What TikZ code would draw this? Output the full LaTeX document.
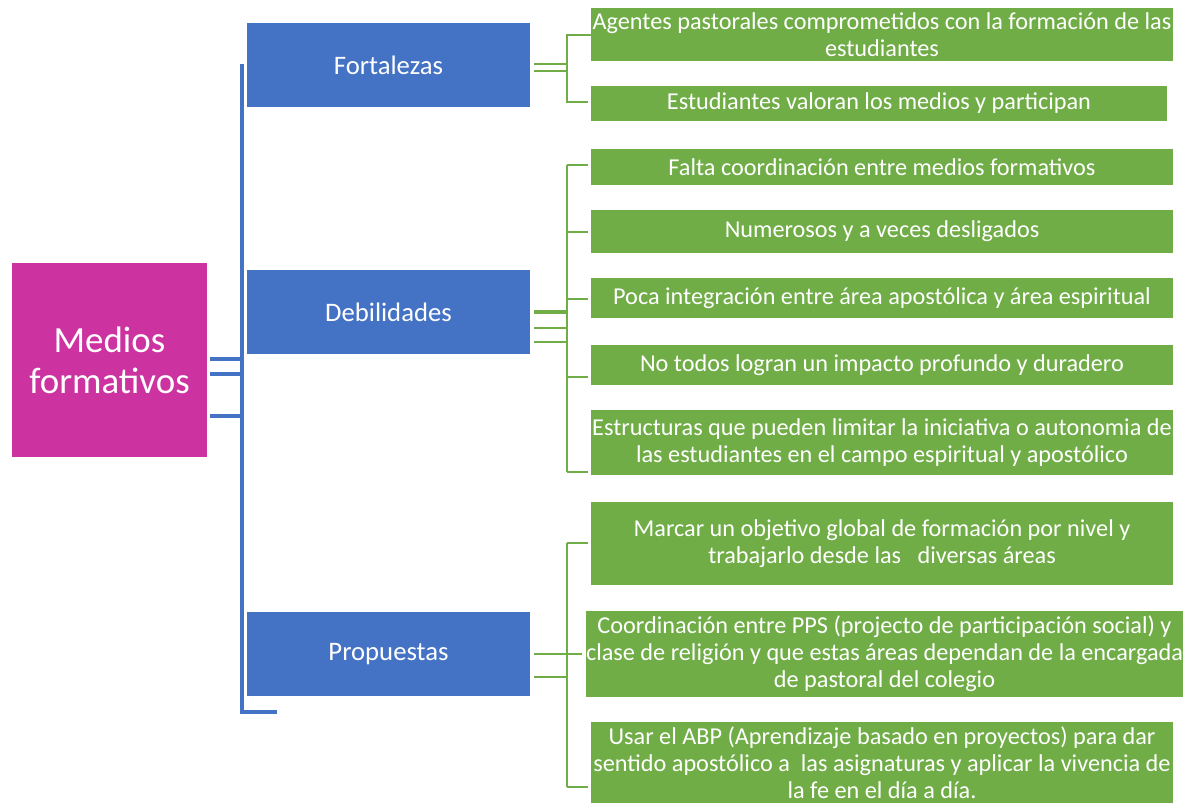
\documentclass[tikz,border=0pt]{standalone}
\usepackage{fontspec}
\setmainfont{Carlito}
\definecolor{magbox}{RGB}{204,51,160}
\definecolor{bluebox}{RGB}{68,114,196}
\definecolor{greenbox}{RGB}{112,173,71}

\begin{document}
\begin{tikzpicture}[x=0.02cm, y=-0.02cm,
  rootbox/.style={fill=magbox, text=white, minimum width=3.9cm, minimum height=3.88cm,
    align=center, inner sep=0pt, font=\fontsize{21}{23.5}\selectfont},
  catbox/.style={fill=bluebox, text=white, minimum width=5.66cm, minimum height=1.68cm,
    inner sep=0pt, font=\fontsize{15.2}{18}\selectfont},
  leaf/.style={fill=greenbox, text=white, minimum width=11.64cm, align=center,
    inner sep=0pt, font=\fontsize{13.8}{15.4}\selectfont},
  bline/.style={draw=bluebox, line width=2pt},
  gline/.style={draw=greenbox, line width=1.6pt}]
  \useasboundingbox (0,0) rectangle (1200,804);

  % Root and categories
  \node[rootbox] (medios) at (109.5,360) {Medios\\formativos};
  \node[catbox] (fort) at (388.5,65) {Fortalezas};
  \node[catbox] (deb) at (388.5,312) {Debilidades};
  \node[catbox] (prop) at (388.5,654) {Propuestas};

  % Fortalezas
  \node[leaf, minimum height=1.06cm] (f1) at (882,34.5)
    {Agentes pastorales comprometidos con la formación de las\\estudiantes};
  \node[leaf, minimum width=11.52cm, minimum height=0.7cm] (f2) at (879,103.5)
    {Estudiantes valoran los medios y participan};

  % Debilidades
  \node[leaf, minimum height=0.72cm] (d1) at (882,167) {Falta coordinación entre medios formativos};
  \node[leaf, minimum height=0.86cm] (d2) at (882,231.5) {Numerosos y a veces desligados};
  \node[leaf, minimum height=0.8cm] (d3) at (882,298) {Poca integración entre área apostólica y área espiritual};
  \node[leaf, minimum height=0.8cm] (d4) at (882,365) {No todos logran un impacto profundo y duradero};
  \node[leaf, minimum height=1.3cm] (d5) at (882,442.5)
    {Estructuras que pueden limitar la iniciativa o autonomia de\\las estudiantes en el campo espiritual y apostólico};

  % Propuestas
  \node[leaf, minimum height=1.66cm] (p1) at (882,543.5)
    {Marcar un objetivo global de formación por nivel y\\trabajarlo desde las \ \ diversas áreas};
  \node[leaf, minimum width=11.94cm, minimum height=1.72cm] (p2) at (884.5,654)
    {Coordinación entre PPS (projecto de participación social) y\\clase de religión y que estas áreas dependan de la encargada\\de pastoral del colegio};
  \node[leaf, minimum height=1.62cm] (p3) at (882,762.5)
    {Usar el ABP (Aprendizaje basado en proyectos) para dar\\sentido apostólico a \ las asignaturas y aplicar la vivencia de\\la fe en el día a día.};

  % Blue connectors
  \coordinate (btop) at (242,64);
  \coordinate (bbot) at (242,712);
  \coordinate (bend) at (277,712);
  \coordinate (m1) at (242,359);
  \coordinate (m2) at (242,374);
  \coordinate (m3) at (242,416);
  \draw[bline] (btop) -- (bbot) -- (bend);
  \foreach \m in {m1,m2,m3}
    \draw[bline, shorten <=0.06cm] (\m -| medios.east) -- (\m);

  % Green connectors, Fortalezas
  \coordinate (fa) at (567,64);
  \coordinate (fb) at (567,71);
  \coordinate (ft) at (567,35);
  \coordinate (fe) at (567,102);
  \foreach \c in {fa,fb}
    \draw[gline, shorten <=0.08cm] (\c -| fort.east) -- (\c);
  \draw[gline, shorten >=0.06cm] (ft -| f1.west) -- (ft) -- (fe) -- (fe -| f2.west);

  % Green connectors, Debilidades
  \coordinate (da) at (567,312);
  \coordinate (db) at (567,328);
  \coordinate (dc) at (567,342);
  \coordinate (dt) at (567,165);
  \coordinate (dd) at (567,232);
  \coordinate (dm) at (567,299);
  \coordinate (dn) at (567,377);
  \coordinate (de) at (567,472);
  \draw[gline, line width=2.5pt, shorten <=0.08cm] (da -| deb.east) -- (da);
  \foreach \c in {db,dc}
    \draw[gline, shorten <=0.08cm] (\c -| deb.east) -- (\c);
  \draw[gline] (dt) -- (de);
  \draw[gline, shorten >=0.06cm] (dt) -- (dt -| d1.west);
  \draw[gline, shorten >=0.06cm] (dd) -- (dd -| d2.west);
  \draw[gline, shorten >=0.06cm] (dm) -- (dm -| d3.west);
  \draw[gline, shorten >=0.06cm] (dn) -- (dn -| d4.west);
  \draw[gline, shorten >=0.06cm] (de) -- (de -| d5.west);

  % Green connectors, Propuestas
  \coordinate (pa) at (567,654);
  \coordinate (pb) at (567,677);
  \coordinate (pt) at (567,543);
  \coordinate (pe) at (567,787);
  \draw[gline, shorten <=0.08cm, shorten >=0.08cm] (pa -| prop.east) -- (pa -| p2.west);
  \draw[gline, shorten <=0.08cm] (pb -| prop.east) -- (pb);
  \draw[gline] (pt) -- (pe);
  \draw[gline, shorten >=0.06cm] (pt) -- (pt -| p1.west);
  \draw[gline, shorten >=0.06cm] (pe) -- (pe -| p3.west);
\end{tikzpicture}
\end{document}
